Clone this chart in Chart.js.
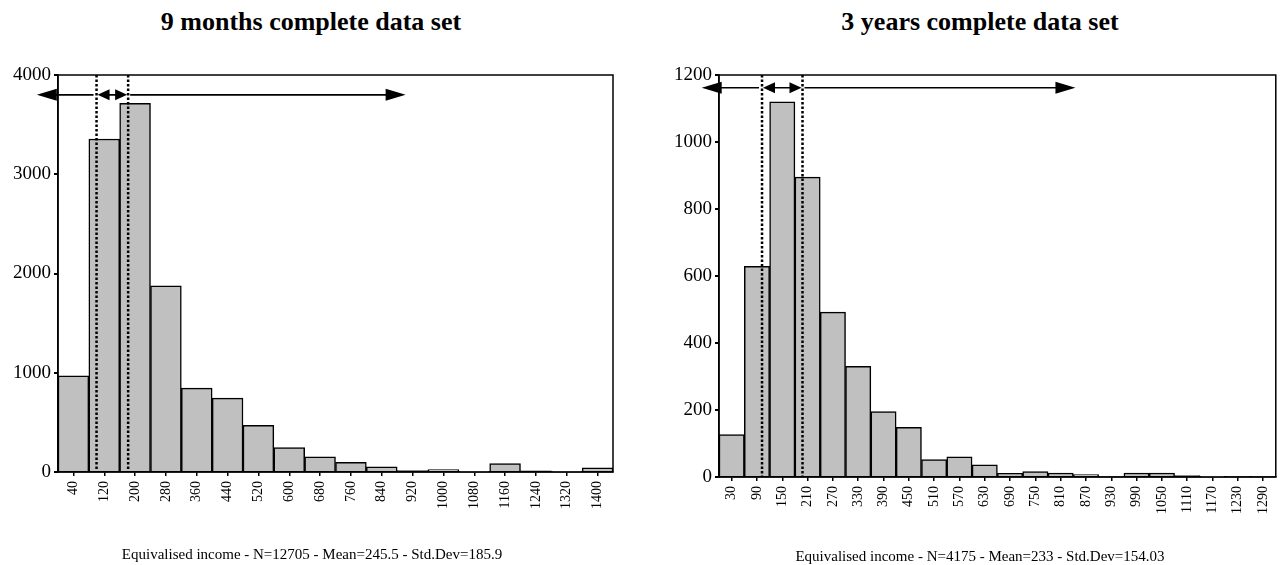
<!DOCTYPE html>
<html>
<head>
<meta charset="utf-8">
<script src="https://cdn.jsdelivr.net/npm/chart.js@4.4.0/dist/chart.umd.min.js"></script>
<style>
  body { margin: 0; background: #fff; width: 1285px; height: 565px; position: relative; overflow: hidden; font-family: "Liberation Serif", "Times New Roman", serif; color: #000; }
  .caixa { position: absolute; top: 0; width: 640px; height: 565px; }
  .titulo { position: absolute; top: 9px; width: 500px; text-align: center; font-weight: bold; font-size: 26px; line-height: 26px; }
  .rodape { position: absolute; width: 500px; text-align: center; font-size: 15px; line-height: 15px; }
</style>
</head>
<body>
<div class="titulo" style="left:61px">9 months complete data set</div>
<div class="titulo" style="left:730px">3 years complete data set</div>
<div class="caixa" style="left:0px"><canvas id="grafico-9meses"></canvas></div>
<div class="caixa" style="left:645px"><canvas id="grafico-3anos"></canvas></div>
<div class="rodape" style="left:62px; top:547px">Equivalised income - N=12705 - Mean=245.5 - Std.Dev=185.9</div>
<div class="rodape" style="left:730px; top:549px">Equivalised income - N=4175 - Mean=233 - Std.Dev=154.03</div>
<script>
// 9 meses
const rotulos9m = [40, 120, 200, 280, 360, 440, 520, 600, 680, 760, 840, 920, 1000, 1080, 1160, 1240, 1320, 1400];
const contagem9m = [968, 3355, 3715, 1875, 845, 745, 470, 245, 152, 97, 53, 15, 25, 3, 84, 12, 2, 43];
const linhas9m = [100, 182];      // linhas pontilhadas
const setas9m = [-55, 902];       // pontas das setas
const alturaSeta9m = 3800;

// 3 anos
const rotulos3a = [30, 90, 150, 210, 270, 330, 390, 450, 510, 570, 630, 690, 750, 810, 870, 930, 990, 1050, 1110, 1170, 1230, 1290];
const contagem3a = [127, 629, 1120, 895, 492, 330, 195, 148, 52, 60, 36, 11, 16, 12, 7, 2, 12, 12, 4, 1, 2, 2];
const linhas3a = [102, 198];
const setas3a = [-41, 845];
const alturaSeta3a = 1162;

function ponta(ctx, x, y, dir, comp, meia) {
  ctx.beginPath();
  ctx.moveTo(x, y);
  ctx.lineTo(x - dir * comp, y - meia);
  ctx.lineTo(x - dir * comp, y + meia);
  ctx.closePath();
  ctx.fill();
}

const pluginMarcas = {
  id: 'marcas',
  afterDatasetsDraw(chart, args, opts) {
    const ctx = chart.ctx;
    const area = chart.chartArea;
    const sx = chart.scales.x, sy = chart.scales.y;
    const lbl = chart.data.labels;
    const p0 = sx.getPixelForValue(0), p1 = sx.getPixelForValue(1);
    const px = v => p0 + (v - lbl[0]) / (lbl[1] - lbl[0]) * (p1 - p0);

    ctx.save();
    // moldura
    ctx.strokeStyle = '#000';
    ctx.lineWidth = 1.5;
    ctx.strokeRect(area.left, area.top, area.right - area.left, area.bottom - area.top);

    // linhas pontilhadas
    ctx.lineWidth = 2.5;
    ctx.setLineDash([2.5, 2]);
    opts.linhas.forEach(v => {
      const x = px(v);
      ctx.beginPath();
      ctx.moveTo(x, area.top);
      ctx.lineTo(x, area.bottom);
      ctx.stroke();
    });
    ctx.setLineDash([]);

    // setas
    const y = sy.getPixelForValue(opts.alturaSeta);
    const a = px(opts.linhas[0]), b = px(opts.linhas[1]);
    const esq = px(opts.setas[0]), dir = px(opts.setas[1]);
    ctx.fillStyle = '#000';
    ctx.lineWidth = 1.6;
    ctx.beginPath();
    ctx.moveTo(a - 3, y); ctx.lineTo(esq + 10, y);
    ctx.moveTo(a + 6, y); ctx.lineTo(b - 6, y);
    ctx.moveTo(b + 2, y); ctx.lineTo(dir - 10, y);
    ctx.stroke();
    ponta(ctx, esq, y, -1, 20, 6);
    ponta(ctx, dir, y, 1, 20, 6);
    ponta(ctx, a + 1, y, -1, 12, 5.5);
    ponta(ctx, b - 1, y, 1, 12, 5.5);
    ctx.restore();
  }
};

function criarHistograma(id, rotulos, contagem, yMax, yPasso, largY, altX, padDir, marcas) {
  const ctx = document.getElementById(id).getContext('2d');
  return new Chart(ctx, {
    type: 'bar',
    data: {
      labels: rotulos,
      datasets: [{
        data: contagem,
        backgroundColor: '#c0c0c0',
        borderColor: '#000',
        borderWidth: 1.5,
        barPercentage: 1,
        categoryPercentage: 1
      }]
    },
    options: {
      responsive: true,
      maintainAspectRatio: false,
      animation: false,
      layout: { padding: { top: 75, right: padDir, left: 0, bottom: 0 } },
      plugins: {
        legend: { display: false },
        tooltip: { enabled: false },
        marcas: marcas
      },
      scales: {
        x: {
          grid: { drawOnChartArea: false, drawTicks: true, tickLength: 4, color: '#000', lineWidth: 1.5, offset: false },
          border: { display: true, color: '#000', width: 1.5 },
          ticks: {
            autoSkip: false,
            minRotation: 90,
            maxRotation: 90,
            padding: 5,
            color: '#000',
            font: { family: '"Liberation Serif", serif', size: 14 }
          },
          afterFit: s => { s.height = altX; }
        },
        y: {
          min: 0,
          max: yMax,
          grid: { drawOnChartArea: false, drawTicks: true, tickLength: 4, color: '#000', lineWidth: 2 },
          border: { display: true, color: '#000', width: 1.5 },
          ticks: {
            stepSize: yPasso,
            padding: 3,
            color: '#000',
            font: { family: '"Liberation Serif", serif', size: 19 },
            callback: v => String(v)
          },
          afterFit: s => { s.width = largY; }
        }
      }
    },
    plugins: [pluginMarcas]
  });
}

criarHistograma('grafico-9meses', rotulos9m, contagem9m, 4000, 1000, 58, 93, 27,
  { linhas: linhas9m, setas: setas9m, alturaSeta: alturaSeta9m });
criarHistograma('grafico-3anos', rotulos3a, contagem3a, 1200, 200, 74, 88, 3,
  { linhas: linhas3a, setas: setas3a, alturaSeta: alturaSeta3a });
</script>
</body>
</html>
